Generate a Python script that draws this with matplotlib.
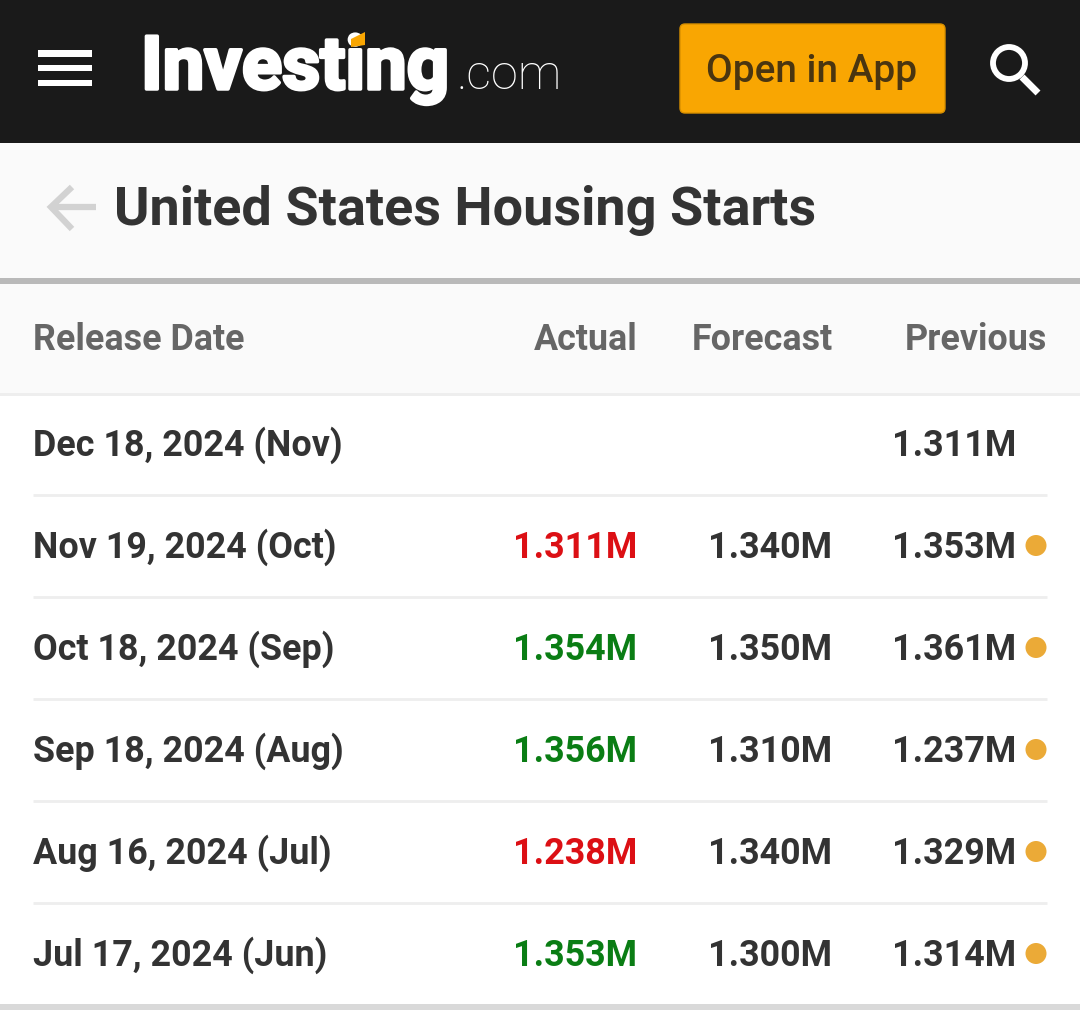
import matplotlib
matplotlib.use("Agg")
import matplotlib.pyplot as plt
import matplotlib.patheffects as pe
from matplotlib.patches import Rectangle, FancyBboxPatch, Circle, Polygon

plt.rcParams['font.family'] = ['Roboto', 'DejaVu Sans']

# table data
title = "United States Housing Starts"
headers = ["Release Date", "Actual", "Forecast", "Previous"]
dates = ["Dec 18, 2024 (Nov)", "Nov 19, 2024 (Oct)", "Oct 18, 2024 (Sep)",
         "Sep 18, 2024 (Aug)", "Aug 16, 2024 (Jul)", "Jul 17, 2024 (Jun)"]
actual = ["", "1.311M", "1.354M", "1.356M", "1.238M", "1.353M"]
forecast = ["", "1.340M", "1.350M", "1.310M", "1.340M", "1.300M"]
previous = ["1.311M", "1.353M", "1.361M", "1.237M", "1.329M", "1.314M"]
revised = [False, True, True, True, True, True]
actual_good = [None, False, True, True, False, True]

DARK = "#333333"
GREY = "#666666"
RED = "#dc0f14"
GREEN = "#0a7d14"
ORANGE = "#f9a602"
DOT = "#ebaa37"
SIZE = 25.8

fig = plt.figure(figsize=(10.8, 10.1), dpi=100)
ax = fig.add_axes([0, 0, 1, 1])
ax.set_xlim(0, 1080)
ax.set_ylim(1010, 0)
ax.axis("off")

# backgrounds
ax.add_patch(Rectangle((0, 0), 1080, 1010, color="white", lw=0))
ax.add_patch(Rectangle((0, 0), 1080, 143, color="#1a1a1a", lw=0))
ax.add_patch(Rectangle((0, 143), 1080, 135, color="#fafafa", lw=0))
ax.add_patch(Rectangle((0, 278), 1080, 6, color="#b9b9b9", lw=0))
ax.add_patch(Rectangle((0, 284), 1080, 109, color="#fafafa", lw=0))
ax.add_patch(Rectangle((0, 393), 1080, 3, color="#eeeeee", lw=0))
ax.add_patch(Rectangle((0, 1004), 1080, 6, color="#d9d9d9", lw=0))

# hamburger menu
for y in [50, 64.5, 79.5]:
    ax.add_patch(Rectangle((38, y), 54, 6.5, color="white", lw=0))

# logo
ax.text(141, 89, "Investing", color="white", fontsize=53.5, fontweight="bold",
        va="baseline", ha="left",
        path_effects=[pe.withStroke(linewidth=2.5, foreground="white")])
ax.text(456, 89, ".com", color="white", fontsize=35, fontweight="light",
        va="baseline", ha="left")
ax.add_patch(Polygon([(351, 39), (365, 32), (365, 45), (351, 47)], color=ORANGE, lw=0, zorder=5))

# open in app button
ax.add_patch(FancyBboxPatch((680, 24), 265, 89, boxstyle="round,pad=0,rounding_size=5",
                            fc=ORANGE, ec="#d99000", lw=1))
ax.text(812, 71, "Open in App", color="#4a3510", fontsize=27.9, fontweight="medium",
        ha="center", va="center")

# search icon
ax.add_patch(Circle((1009, 63), 16, fc="none", ec="white", lw=4.2))
ax.plot([1022, 1038], [77, 93], color="white", lw=5, solid_capstyle="butt")

# back arrow and title
ax.plot([72, 51, 72], [187, 207, 229], color="#d2d2d2", lw=4.5, solid_joinstyle="miter",
        solid_capstyle="butt")
ax.plot([51, 96], [207, 207], color="#d2d2d2", lw=4.5, solid_capstyle="butt")
ax.text(114, 210, title, color=DARK, fontsize=38.9, fontweight="bold", ha="left", va="center")

# header row
header_x = [33, 638, 833, 1047]
header_ha = ["left", "right", "right", "right"]
for label, x, ha in zip(headers, header_x, header_ha):
    ax.text(x, 350, label, color=GREY, fontsize=SIZE, fontweight="bold", ha=ha, va="baseline")

# data rows
for i in range(len(dates)):
    yc = 444 + i * 102
    base = yc + 12
    ax.text(33, base, dates[i], color=DARK, fontsize=SIZE, fontweight="bold", ha="left", va="baseline")
    if actual[i]:
        colour = GREEN if actual_good[i] else RED
        ax.text(637, base, actual[i], color=colour, fontsize=SIZE, fontweight="bold", ha="right", va="baseline")
    if forecast[i]:
        ax.text(832, base, forecast[i], color=DARK, fontsize=SIZE, fontweight="bold", ha="right", va="baseline")
    ax.text(1016, base, previous[i], color=DARK, fontsize=SIZE, fontweight="bold", ha="right", va="baseline")
    if revised[i]:
        ax.add_patch(Circle((1036, yc - 0.5), 10.5, fc=DOT, ec="none"))
    if i < len(dates) - 1:
        ax.plot([33, 1047], [yc + 51, yc + 51], color="#eeeeee", lw=2, solid_capstyle="butt")

fig.savefig("out.png", dpi=100)
